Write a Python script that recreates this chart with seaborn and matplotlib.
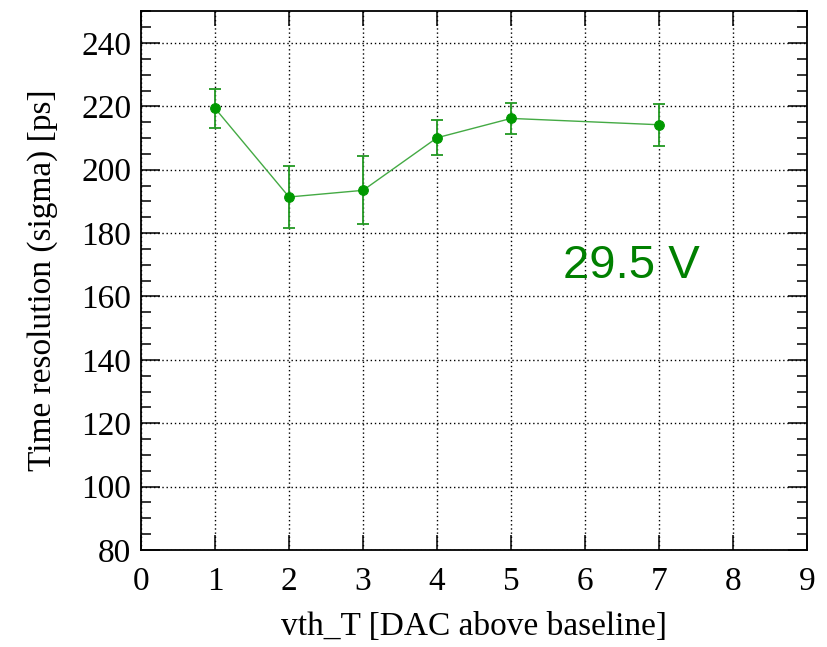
import matplotlib
matplotlib.use("Agg")
import matplotlib.pyplot as plt
import seaborn as sns
import pandas as pd
from matplotlib.ticker import MultipleLocator

vth = [1, 2, 3, 4, 5, 7]
sigma = [219.4, 191.4, 193.5, 210.1, 216.2, 214.2]
err = [6.2, 9.7, 10.7, 5.5, 4.8, 6.6]
label_text = "29.5 V"

sns.set_theme(style="ticks")
plt.rcParams['font.family'] = ['Liberation Serif', 'DejaVu Serif']

df = pd.DataFrame({"vth": vth, "sigma": sigma, "err": err})

fig = plt.figure(figsize=(8.27, 6.47), dpi=100)
ax = fig.add_axes([0.1705, 0.150, 0.8055, 0.8325])

ax.errorbar(df["vth"], df["sigma"], yerr=df["err"], fmt='none',
            ecolor='#229922', elinewidth=1.3, capsize=4.5, capthick=1.3, zorder=3)
sns.lineplot(data=df, x="vth", y="sigma", ax=ax, color='#44aa44', linewidth=1.0,
             marker='o', markersize=7, markerfacecolor='#009900',
             markeredgecolor='#009900', zorder=4)

ax.set_xlim(0, 9)
ax.set_ylim(80, 250)
ax.xaxis.set_major_locator(MultipleLocator(1))
ax.yaxis.set_major_locator(MultipleLocator(20))
ax.yaxis.set_minor_locator(MultipleLocator(5))

ax.grid(True, which='major', color='black', linestyle=(0, (1, 2)), linewidth=1.0)
ax.set_axisbelow(True)

ax.tick_params(axis='both', which='both', direction='in', top=True, right=True,
               colors='black', labelcolor='black', labelsize=24, width=1.1)
ax.tick_params(axis='y', which='major', length=14, pad=7)
ax.tick_params(axis='y', which='minor', length=7)
ax.tick_params(axis='x', which='major', length=11, pad=12)

for s in ax.spines.values():
    s.set_color('black')
    s.set_linewidth(1.3)

ax.set_xlabel("vth_T [DAC above baseline]", fontsize=24, labelpad=10, color='black')
ax.set_ylabel("Time resolution (sigma) [ps]", fontsize=24, labelpad=17, color='black')

ax.text(0.633, 0.505, label_text, transform=ax.transAxes, fontsize=34,
        color='#008000', family=['Liberation Sans', 'DejaVu Sans'],
        ha='left', va='baseline')

fig.savefig("out.png", dpi=100)
